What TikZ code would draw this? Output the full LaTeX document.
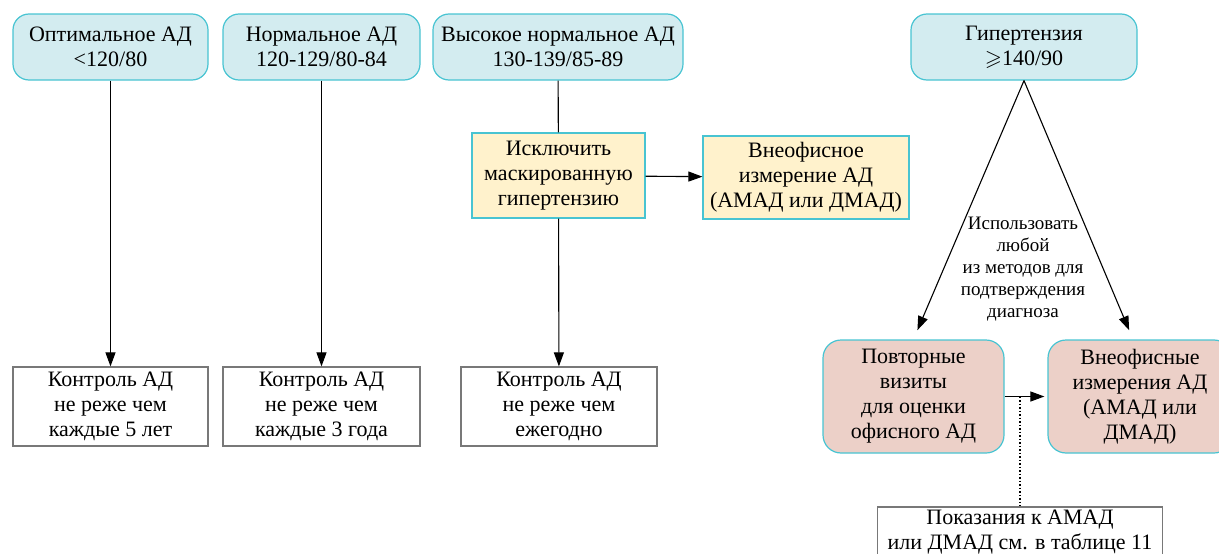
\documentclass[tikz,border=0pt]{standalone}
\usepackage{amssymb}
\usepackage{fontspec}
\setmainfont{Liberation Serif}
\usetikzlibrary{arrows.meta}

\definecolor{topfill}{RGB}{211,236,240}
\definecolor{topline}{RGB}{72,196,210}
\definecolor{yelfill}{RGB}{255,242,204}
\definecolor{pinkfill}{RGB}{236,208,200}
\definecolor{ctrlline}{RGB}{120,120,120}

\begin{document}
\begin{tikzpicture}[x=1pt, y=-1pt,
    every node/.style={align=center, inner sep=0pt, font=\fontsize{22}{25}\selectfont},
    topbox/.style={draw=topline, fill=topfill, line width=1.2pt, rounded corners=16pt},
    yelbox/.style={draw=topline, fill=yelfill, line width=1.2pt},
    pinkbox/.style={draw=topline, fill=pinkfill, line width=1.2pt, rounded corners=18pt},
    ctrlbox/.style={draw=ctrlline, line width=1.2pt, minimum width=195pt, minimum height=79pt},
    arr/.style={-{Triangle[length=14pt,width=10pt]}, line width=1.1pt}]
    \useasboundingbox (0,0) rectangle (1219,554);

    % top row
    \node[topbox, minimum width=195pt, minimum height=66pt] (opt)  at (110.5,47) {Оптимальное АД\\<120/80};
    \node[topbox, minimum width=197pt, minimum height=66pt] (norm) at (321.5,47) {Нормальное АД\\120-129/80-84};
    \node[topbox, minimum width=250pt, minimum height=66pt] (high) at (558,47) {Высокое нормальное АД\\130-139/85-89};
    \node[topbox, minimum width=226pt, minimum height=66pt] (hyp)  at (1024,47) {Гипертензия\\$\geqslant$140/90};

    % masked hypertension
    \node[yelbox, minimum width=173pt, minimum height=85pt] (excl)   at (558.5,175.5) {Исключить\\маскированную\\гипертензию};
    \node[yelbox, minimum width=206pt, minimum height=83pt] (outoff) at (806,177.5) {Внеофисное\\измерение АД\\(АМАД или ДМАД)};

    % control boxes
    \node[ctrlbox] (ctrl1) at (110.5,406.5) {Контроль АД\\не реже чем\\каждые 5 лет};
    \node[ctrlbox, minimum width=197pt] (ctrl2) at (321.5,406.5) {Контроль АД\\не реже чем\\каждые 3 года};
    \node[ctrlbox, minimum width=196pt] (ctrl3) at (559,406.5) {Контроль АД\\не реже чем\\ежегодно};

    % hypertension branch
    \node[pinkbox, minimum width=181pt, minimum height=113pt] (rep)  at (913.5,396.5) {Повторные\\визиты\\для оценки\\офисного АД};
    \node[pinkbox, minimum width=184pt, minimum height=113pt] (meas) at (1140,396.5) {Внеофисные\\измерения АД\\(АМАД или\\ДМАД)};
    \node[font=\fontsize{19}{22}\selectfont] (use) at (1023,269) {Использовать\\любой\\из методов для\\подтверждения\\диагноза};
    \node[draw=ctrlline, line width=1.2pt, minimum width=285pt, minimum height=51pt] (note) at (1020,532.5)
        {Показания к АМАД\\или ДМАД см. в таблице 11};

    \draw [arr] (opt)  -- (ctrl1);
    \draw [arr] (norm) -- (ctrl2);
    \draw [line width=1.1pt] (high) -- (excl);
    \draw [arr] (excl) -- (ctrl3);
    \draw [arr] (excl) -- (outoff);

    \draw [arr, shorten >=10pt] (hyp.south) -- (rep.north);
    \draw [arr, shorten >=10pt] (hyp.south) -- ([xshift=-7pt]meas.north);
    \draw [arr, shorten >=3pt] (rep) -- (meas);
    \coordinate (mid) at (1020,396.5);
    \draw [dotted, line width=1.5pt] (mid) -- (note.north);
\end{tikzpicture}
\end{document}
